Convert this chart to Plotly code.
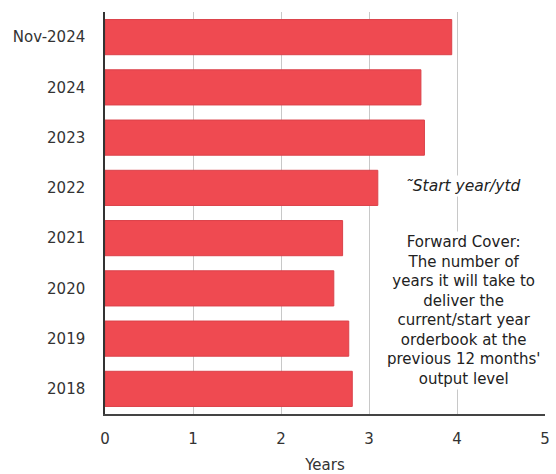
import plotly.graph_objects as go

categories = ["Nov-2024", "2024", "2023", "2022", "2021", "2020", "2019", "2018"]
forward_cover = [3.94, 3.59, 3.63, 3.10, 2.70, 2.60, 2.77, 2.81]
x_ticks = [0, 1, 2, 3, 4, 5]

FONT = "'DejaVu Sans', sans-serif"

fig = go.Figure(go.Bar(
    y=categories,
    x=forward_cover,
    orientation="h",
    marker=dict(color="#EF4A51", line=dict(color="#DB424A", width=1)),
    width=0.7,
))

fig.update_layout(
    width=556, height=474,
    margin=dict(l=105, r=11, t=12, b=60),
    paper_bgcolor="white", plot_bgcolor="white",
    showlegend=False,
    font=dict(family=FONT, size=15, color="#333333"),
)
fig.update_xaxes(
    range=[0, 5], tickvals=x_ticks, showgrid=True, gridcolor="#C8C8C8", gridwidth=1,
    showline=True, linecolor="#444444", linewidth=1.5, zeroline=False,
    ticks="", ticklabelstandoff=10, automargin=False,
    title=dict(text="Years", font=dict(size=15, color="#333333"), standoff=14),
)
fig.update_yaxes(
    type="category",
    categoryorder="array", categoryarray=categories[::-1],
    showline=True, linecolor="#333333", linewidth=1.5, showgrid=False,
    ticks="", ticklabelstandoff=15, automargin=False,
)

fig.add_annotation(
    x=4.07, y=4.04, xref="x", yref="y", text="<i>˜Start year/ytd</i>",
    showarrow=False, font=dict(size=15.5, color="#222222"),
    bgcolor="white",
)
fig.add_annotation(
    x=4.07, y=1.55, xref="x", yref="y",
    text=("Forward Cover:<br>The number of<br>years it will take to<br>deliver the<br>"
          "current/start year<br>orderbook at the<br>previous 12 months'<br>output level"),
    showarrow=False, align="center", font=dict(size=15, color="#222222"),
    bgcolor="white",
)

fig.write_html("out.html", config={"displayModeBar": False},
               post_script="document.body.style.margin='0';document.body.style.overflow='hidden';")
